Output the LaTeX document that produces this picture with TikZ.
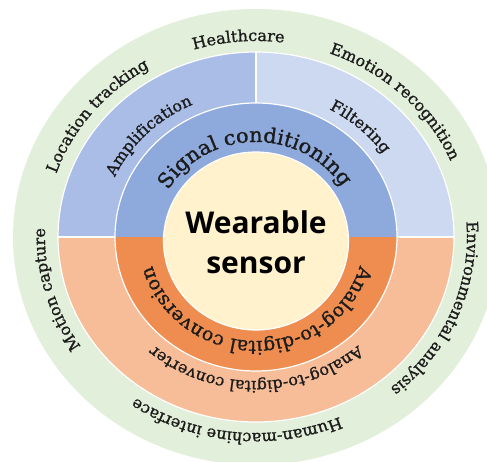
\documentclass[tikz,border=0pt]{standalone}
\usepackage{fontspec}
\usetikzlibrary{decorations.text}

\newfontfamily\arcfont[FakeStretch=1.02,FakeBold=1.2]{DejaVu Serif}
\newfontfamily\hubfont{Open Sans}

\definecolor{appgreen}{HTML}{E2EFDA}
\definecolor{ampblue}{HTML}{A9BDE7}
\definecolor{filtblue}{HTML}{CDD9F0}
\definecolor{sigblue}{HTML}{8EA9DC}
\definecolor{adcpeach}{HTML}{F7BD98}
\definecolor{adcorange}{HTML}{EF8D50}
\definecolor{hubcream}{HTML}{FFF2CD}
\definecolor{labeltext}{HTML}{1C1C1C}

\tikzset{
  sep/.style={white, line width=1.2pt},
  outerlabel/.style={decorate, decoration={text along path, text align=center,
      text color=labeltext, text={|\arcfont\fontsize{15.8}{18}\selectfont|#1}}},
  innerlabel/.style 2 args={decorate, decoration={text along path, text align=center,
      text color=labeltext, text={|\arcfont\fontsize{#1}{21}\selectfont|#2}}}
}

\begin{document}
\begin{tikzpicture}[x=1pt,y=1pt]
  \useasboundingbox (-256,-224) rectangle (231,237);
  \clip (-256,-224) rectangle (231,237);

  % rings
  \fill[appgreen] (0,0) ellipse[x radius=243, y radius=228];
  \fill[ampblue] (0,0) -- (-198,0) arc[start angle=180, end angle=90, x radius=198, y radius=185] -- cycle;
  \fill[filtblue] (0,0) -- (0,185) arc[start angle=90, end angle=0, x radius=198, y radius=185] -- cycle;
  \fill[adcpeach] (0,0) -- (198,0) arc[start angle=0, end angle=-180, x radius=198, y radius=185] -- cycle;
  \fill[sigblue] (0,0) -- (-141,0) arc[start angle=180, end angle=0, x radius=141, y radius=134] -- cycle;
  \fill[adcorange] (0,0) -- (141,0) arc[start angle=0, end angle=-180, x radius=141, y radius=134] -- cycle;
  \fill[hubcream] (0,-4) ellipse[x radius=92.5, y radius=89];

  % white separators
  \draw[sep] (0,0) ellipse[x radius=198, y radius=185];
  \draw[sep] (0,0) ellipse[x radius=141, y radius=134];
  \draw[sep] (0,-4) ellipse[x radius=92.5, y radius=89];
  \draw[sep] (-198,0) -- (-141,0);
  \draw[sep] (141,0) -- (198,0);
  \draw[sep] (0,134) -- (0,185);

  % applications
  \path[outerlabel=Healthcare] (155:211 and 196) arc[start angle=155, end angle=35, x radius=211, y radius=196];
  \path[outerlabel=Location tracking] (200:211 and 196) arc[start angle=200, end angle=84, x radius=211, y radius=196];
  \path[outerlabel=Emotion recognition] (105:211 and 196) arc[start angle=105, end angle=-15, x radius=211, y radius=196];
  \path[outerlabel=Environmental analysis] (48:211 and 196) arc[start angle=48, end angle=-92, x radius=211, y radius=196];
  \path[outerlabel=Human-machine interface] (-26:211 and 196) arc[start angle=-26, end angle=-166, x radius=211, y radius=196];
  \path[outerlabel=Motion capture] (255:211 and 196) arc[start angle=255, end angle=135, x radius=211, y radius=196];

  % circuits
  \path[outerlabel=Amplification] (196:155 and 145) arc[start angle=196, end angle=76, x radius=155, y radius=145];
  \path[outerlabel=Filtering] (107:155 and 145) arc[start angle=107, end angle=-13, x radius=155, y radius=145];
  \path[outerlabel=Analog-to-digital converter] (-10:155 and 144) arc[start angle=-10, end angle=-170, x radius=155, y radius=144];

  % stages
  \path[innerlabel={20.5}{Signal conditioning}] (181:101 and 95) arc[start angle=181, end angle=1, x radius=101, y radius=95];
  \path[innerlabel={18.9}{Analog-to-digital conversion}] (0:108 and 104) arc[start angle=0, end angle=-180, x radius=108, y radius=104];

  \node[align=center, font=\hubfont\bfseries\fontsize{30}{40}\selectfont] (hub) at (0,-5) {Wearable\\sensor};
\end{tikzpicture}
\end{document}
